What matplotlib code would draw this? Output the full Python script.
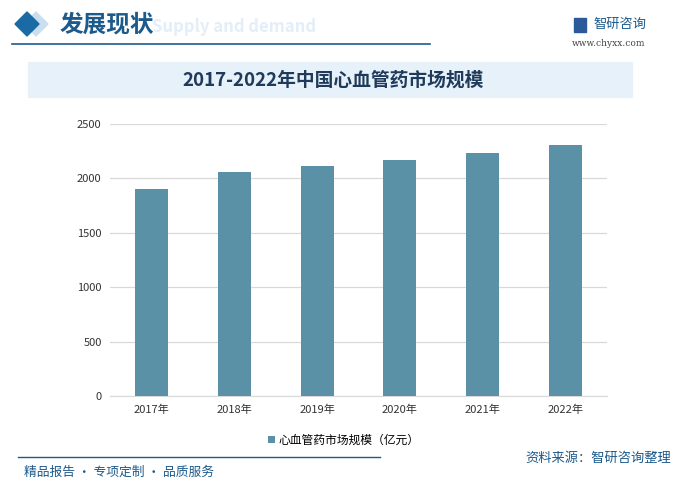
import matplotlib.pyplot as plt
from matplotlib.patches import Rectangle, Polygon

plt.rcParams['font.family'] = ['Noto Sans CJK SC', 'DejaVu Sans']

years = ['2017年', '2018年', '2019年', '2020年', '2021年', '2022年']
market_size = [1902, 2059, 2114, 2169, 2233, 2307]
yticks = [0, 500, 1000, 1500, 2000, 2500]

W, H = 682, 491
fig = plt.figure(figsize=(W / 100, H / 100), dpi=100)

def fx(px):
    return px / W

def fy(py):
    return 1 - py / H

# header
fig.patches.append(Polygon([(fx(24), fy(24)), (fx(36), fy(12)), (fx(48), fy(24)), (fx(36), fy(36))],
                           closed=True, transform=fig.transFigure, color='#c9dff0', zorder=0))
fig.patches.append(Polygon([(fx(15), fy(24)), (fx(27), fy(12)), (fx(39), fy(24)), (fx(27), fy(36))],
                           closed=True, transform=fig.transFigure, color='#1a6aa5', zorder=1))
fig.text(fx(152), fy(27), 'Supply and demand', fontsize=12, color='#e3eef8', va='center', ha='left',
         fontweight='bold', zorder=0)
fig.text(fx(60), fy(24), '发展现状', fontsize=17, color='#1c5a8c', va='center', ha='left',
         fontweight='bold', zorder=2)
fig.lines.append(plt.Line2D([fx(12), fx(430)], [fy(44), fy(44)], transform=fig.transFigure,
                            color='#1c5a8c', lw=1.2))
fig.patches.append(Rectangle((fx(574), fy(32)), fx(12), 14 / H, transform=fig.transFigure,
                             color='#2b5a9a'))
fig.text(fx(593), fy(24), '智研咨询', fontsize=9.5, color='#1c5a8c', va='center', ha='left')
fig.text(fx(572), fy(43), 'www.chyxx.com', fontsize=6.5, color='#444444', va='center', ha='left',
         family='DejaVu Serif')

# title banner
fig.patches.append(Rectangle((fx(28), fy(97)), fx(604), 35 / H, transform=fig.transFigure,
                             color='#e6f1fa', zorder=0))
fig.text(fx(333), fy(80), '2017-2022年中国心血管药市场规模', fontsize=13.5, color='#1f3a5a',
         va='center', ha='center', fontweight='bold')

# chart
ax = fig.add_axes([fx(110), fy(396), fx(497), 272 / H])
x = range(len(years))
ax.bar(x, market_size, width=0.4, color='#5b91a6', zorder=3, label='心血管药市场规模（亿元）')
ax.set_xlim(-0.5, len(years) - 0.5)
ax.set_ylim(0, 2500)
ax.set_yticks(yticks)
ax.set_yticklabels([str(v) for v in yticks], fontsize=8, color='#333333')
ax.set_xticks(list(x))
ax.set_xticklabels(years, fontsize=8, color='#333333')
ax.grid(axis='y', color='#d9d9d9', lw=0.9, zorder=0)
for s in ['top', 'right', 'left']:
    ax.spines[s].set_visible(False)
ax.spines['bottom'].set_color('#d9d9d9')
ax.tick_params(axis='both', length=0, pad=6)
ax.legend(loc='upper center', bbox_to_anchor=(0.47, -0.1), frameon=False, fontsize=8.5,
          handlelength=0.6, handleheight=0.6, handletextpad=0.3)

# footer
fig.lines.append(plt.Line2D([fx(18), fx(380)], [fy(457), fy(457)], transform=fig.transFigure,
                            color='#1c5a8c', lw=1.0))
fig.text(fx(24), fy(472), '精品报告 · 专项定制 · 品质服务', fontsize=9.2, color='#1c5a8c', va='center', ha='left')
fig.text(fx(671), fy(458), '资料来源：智研咨询整理', fontsize=9.5, color='#1c5a8c', va='center', ha='right')

fig.savefig('out.png', dpi=100)
